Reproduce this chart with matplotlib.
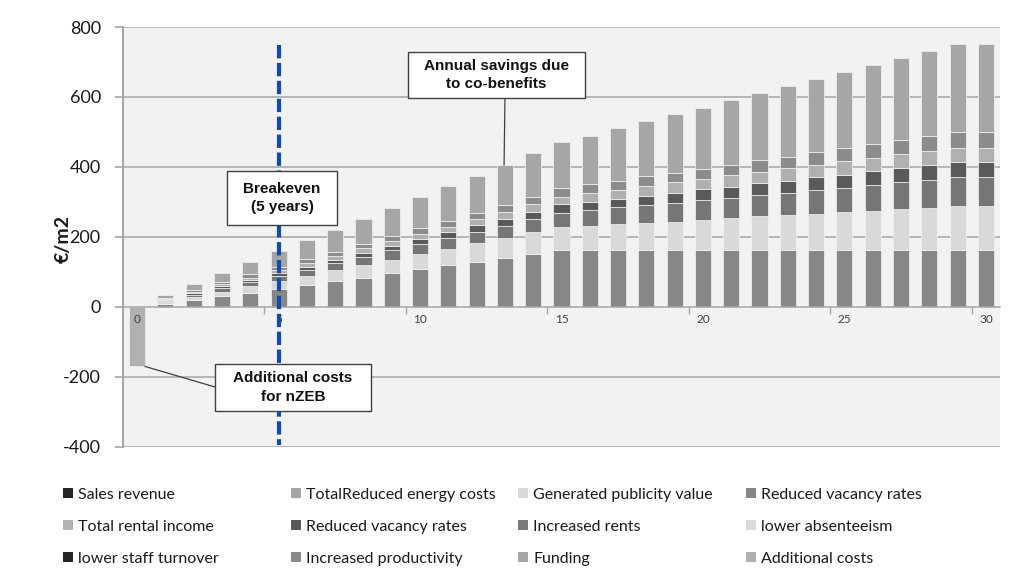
import matplotlib
matplotlib.use("Agg")
import matplotlib.pyplot as plt
from matplotlib.patches import Patch, Rectangle
import numpy as np

# ---------------- data ----------------
years = list(range(0, 31))
x_tick_labels = ["0", "5", "10", "15", "20", "25", "30"]
y_ticks = [-400, -200, 0, 200, 400, 600, 800]

# stacked segments, bottom to top (values in EUR/m2)
reduced_vacancy_rates_a = [0, 9, 19, 31, 41, 51, 63, 74, 84, 96, 108, 119, 129, 141, 150, 163,
                           163, 163, 163, 163, 163, 163, 163, 163, 163, 163, 163, 163, 163, 163, 163]
generated_publicity = [0, 6, 10, 13, 19, 23, 26, 32, 36, 38, 42, 48, 53, 55, 63, 65,
                       69, 75, 76, 81, 86, 90, 96, 99, 104, 107, 112, 117, 121, 126, 126]
increased_rents = [0, 3, 5, 9, 11, 15, 17, 19, 23, 29, 30, 31, 33, 36, 38, 41,
                   45, 47, 51, 54, 57, 59, 61, 65, 67, 71, 74, 76, 79, 82, 82]
reduced_vacancy_rates_b = [0, 3, 5, 7, 6, 7, 9, 9, 11, 11, 14, 15, 18, 20, 21, 24,
                           23, 24, 27, 29, 30, 32, 33, 34, 37, 37, 39, 40, 42, 43, 43]
total_rental_income = [0, 3, 5, 6, 7, 9, 10, 12, 14, 15, 15, 16, 17, 18, 21, 22,
                       25, 25, 29, 29, 30, 32, 32, 35, 34, 38, 39, 40, 41, 41, 41]
increased_productivity = [0, 3, 5, 5, 9, 10, 11, 12, 12, 15, 16, 17, 19, 21, 22, 24,
                          25, 27, 28, 28, 28, 31, 35, 33, 37, 37, 39, 41, 42, 44, 44]
reduced_energy_costs = [0, 7, 16, 25, 35, 45, 55, 62, 71, 78, 90, 101, 106, 115, 124, 131,
                        139, 150, 157, 166, 175, 184, 191, 201, 209, 218, 225, 235, 244, 252, 252]

additional_costs_years = [0]
additional_costs = [-170]

# legend entries (order as shown, row-wise)
legend_names = ["Sales revenue", "TotalReduced energy costs", "Generated publicity value",
                "Reduced vacancy rates", "Total rental income", "Reduced vacancy rates",
                "Increased rents", "lower absenteeism", "lower staff turnover",
                "Increased productivity", "Funding", "Additional costs"]
legend_colors = ["#262626", "#a6a6a6", "#d9d9d9", "#858585", "#b3b3b3", "#595959",
                 "#7a7a7a", "#d9d9d9", "#262626", "#8c8c8c", "#a6a6a6", "#b0b0b0"]

stack = [
    (reduced_vacancy_rates_a, "#878787"),
    (generated_publicity, "#d9d9d9"),
    (increased_rents, "#767676"),
    (reduced_vacancy_rates_b, "#5a5a5a"),
    (total_rental_income, "#b0b0b0"),
    (increased_productivity, "#8c8c8c"),
    (reduced_energy_costs, "#a6a6a6"),
]

# ---------------- figure ----------------
W, H = 1024, 579
fig = plt.figure(figsize=(W / 100, H / 100), dpi=100)
ax = fig.add_axes([123 / W, 1 - 447 / H, (1000 - 123) / W, 420 / H])
ax.set_facecolor("#f2f2f2")
ax.set_xlim(-0.5, 30.5)
ax.set_ylim(-400, 800)

grid_c = "#a6a6a6"
for yv in y_ticks:
    if yv != 0:
        ax.axhline(yv, color=grid_c, lw=1.1, zorder=0.8)

bar_w = 0.57
bottom = np.zeros(len(years))
for vals, col in stack:
    v = np.array(vals, dtype=float)
    ax.bar(years, v, bottom=bottom, width=bar_w, color=col, edgecolor="#f4f4f4",
           linewidth=0.5, zorder=2)
    bottom = bottom + v

ax.bar(additional_costs_years, additional_costs, width=bar_w, color="#b0b0b0",
       edgecolor="#f4f4f4", linewidth=0.5, zorder=2)

# spines / axes
for s in ["top", "right"]:
    ax.spines[s].set_visible(False)
ax.spines["left"].set_color(grid_c)
ax.spines["left"].set_linewidth(1.5)
ax.spines["bottom"].set_position(("data", 0))
ax.spines["bottom"].set_color(grid_c)
ax.spines["bottom"].set_linewidth(1.1)
ax.xaxis.set_zorder(3)
ax.yaxis.set_zorder(3)

ax.set_yticks(y_ticks)
ax.set_yticklabels([str(v) for v in y_ticks])
ax.tick_params(axis="y", direction="out", length=6, width=1.2, color=grid_c,
               pad=10, labelsize=13, labelcolor="#1a1a1a")
for lab in ax.get_yticklabels():
    lab.set_family("Lato")

major_x = [int(t) for t in x_tick_labels]
ax.set_xticks(major_x)
ax.set_xticklabels(x_tick_labels)
ax.set_xticks([m - 0.5 for m in major_x[1:]], minor=True)
ax.tick_params(axis="x", which="major", length=0, pad=5, labelsize=8.5,
               labelcolor="#404040")
ax.tick_params(axis="x", which="minor", direction="out", length=5, width=1,
               color=grid_c)
for lab in ax.get_xticklabels():
    lab.set_family("Lato")

fig.text(63 / W, 1 - 239 / H, "€/m2", rotation=90, ha="center", va="center",
         fontsize=14, fontweight="bold", family="Lato", color="#1a1a1a")

# breakeven line
ax.plot([5, 5], [748, -394], color="#0f4cad", lw=3, dashes=(3.2, 1.1), zorder=4,
        solid_capstyle="butt", dash_capstyle="butt")

# annotation boxes
def px2x(px):
    return (px - 137.1) / ((986 - 137.1) / 30)

def py2y(py):
    return (307 - py) * 200 / 70

ann_font = dict(family=["Liberation Sans Narrow", "DejaVu Sans Condensed", "Liberation Sans"],
                fontweight="bold", fontsize=11, color="#111111", linespacing=1.4)

def box(x0, x1, y0, y1, text):
    X0, X1 = px2x(x0), px2x(x1)
    Y0, Y1 = py2y(y1), py2y(y0)
    ax.add_patch(Rectangle((X0, Y0), X1 - X0, Y1 - Y0, facecolor="white",
                           edgecolor="#404040", lw=1.0, zorder=5))
    ax.text((X0 + X1) / 2, (Y0 + Y1) / 2, text, ha="center", va="center",
            zorder=6, **ann_font)
    return X0, X1, Y0, Y1

box(227, 337, 171, 225, "Breakeven\n(5 years)")
X0, X1, Y0, Y1 = box(408, 585, 52, 98, "Annual savings due\nto co-benefits")
ax.plot([px2x(505), 13 - 0.03], [Y0, bottom[13]], color="#404040", lw=0.9, zorder=4.5)
X0, X1, Y0, Y1 = box(215, 371, 364, 411, "Additional costs\nfor nZEB")
ax.plot([bar_w / 2, X0], [additional_costs[0], py2y(387)], color="#404040", lw=0.9,
        zorder=4.5)

# legend: 4 columns x 3 rows, row-wise order
handles = [Patch(facecolor=c, edgecolor="none") for c in legend_colors]
col_x = [63, 291, 518, 746]
for c in range(4):
    idx = [c, c + 4, c + 8]
    lg = fig.legend([handles[i] for i in idx], [legend_names[i] for i in idx],
                    loc="center left", bbox_to_anchor=(col_x[c] / W, 1 - 527 / H),
                    frameon=False, borderaxespad=0, borderpad=0,
                    handlelength=0.6, handleheight=0.6, handletextpad=0.35,
                    labelspacing=1.13, prop=dict(family="Lato", size=11.5))
    for t in lg.get_texts():
        t.set_color("#1a1a1a")

fig.savefig("out.png", dpi=100, facecolor="white")
